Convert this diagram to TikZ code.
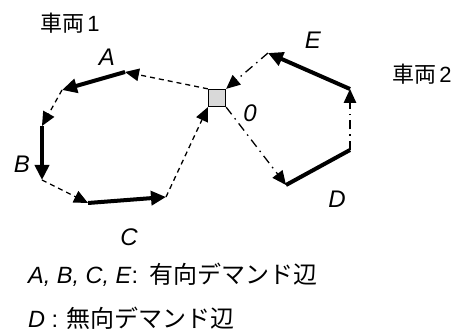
\documentclass[tikz,border=0pt]{standalone}
\usepackage{fontspec}
\setmainfont{Liberation Sans}
\newfontfamily\cjk{Noto Sans CJK JP}
\usetikzlibrary{arrows.meta}
\tikzset{
  tip/.style={-{Triangle[length=14pt,width=12.5pt]}},
  thickarr/.style={line width=4pt, -{Triangle[length=15pt,width=14pt]}},
  thickline/.style={line width=4pt},
  dasharr/.style={line width=1.3pt, dash pattern=on 5pt off 4pt, tip},
  dotarr/.style={line width=1.3pt, dash pattern=on 9pt off 5pt on 1.5pt off 5pt, tip},
  lbl/.style={font=\fontsize{24}{28}\selectfont\itshape, inner sep=0pt},
  veh/.style={font=\fontsize{22}{26}\selectfont, inner sep=0pt},
  leg/.style={font=\fontsize{23.5}{28}\selectfont, inner sep=0pt, anchor=base west},
  depot/.style={draw, line width=1.3pt, fill=gray!30, minimum size=17pt, inner sep=0pt}
}
\begin{document}
\begin{tikzpicture}[x=1pt,y=-1pt]
\useasboundingbox (0,0) rectangle (461,331);
\node[depot] (d) at (217,98) {};
% vehicle 1
\coordinate (a1) at (125,72);
\coordinate (a2) at (62,90);
\coordinate (b1) at (42,126);
\coordinate (b2) at (42,180);
\coordinate (c1) at (88,203);
\coordinate (c2) at (166,197);
\draw[dasharr] (d.north west) -- (a1);
\draw[thickarr] (a1) -- (a2);
\draw[dasharr] (a2) -- (b1);
\draw[thickarr] (b1) -- (b2);
\draw[dasharr] (b2) -- (c1);
\draw[thickarr] (c1) -- (c2);
\draw[dasharr] (c2) -- (d.south west);
% vehicle 2
\coordinate (d1) at (286,185);
\coordinate (d2) at (350,150);
\coordinate (e1) at (350,89);
\coordinate (e2) at (268,53);
\draw[dotarr] (d.south east) -- (d1);
\draw[thickline] (d1) -- (d2);
\draw[dotarr] (d2) -- (e1);
\draw[thickarr] (e1) -- (e2);
\draw[dotarr] (e2) -- (d.north east);
% labels
\node[lbl] (lA) at (107,57) {A};
\node[lbl] (lB) at (22,164) {B};
\node[lbl] (lC) at (129,237) {C};
\node[lbl] (lD) at (337,199) {D};
\node[lbl] (lE) at (313,40) {E};
\node[lbl] (l0) at (250,113) {0};
\node[veh] (v1) at (70,23) {{\cjk 車両}\hspace{3pt}1};
\node[veh] (v2) at (422,74) {{\cjk 車両}\hspace{3pt}2};
\node[leg] (g1) at (28,284) {\textit{A, B, C, E}: \hspace{5pt}{\cjk\fontsize{24}{28}\selectfont 有向デマンド辺}};
\node[leg] (g2) at (28,327) {\textit{D} : \hspace{2pt}{\cjk\fontsize{24}{28}\selectfont 無向デマンド辺}};
\end{tikzpicture}
\end{document}
